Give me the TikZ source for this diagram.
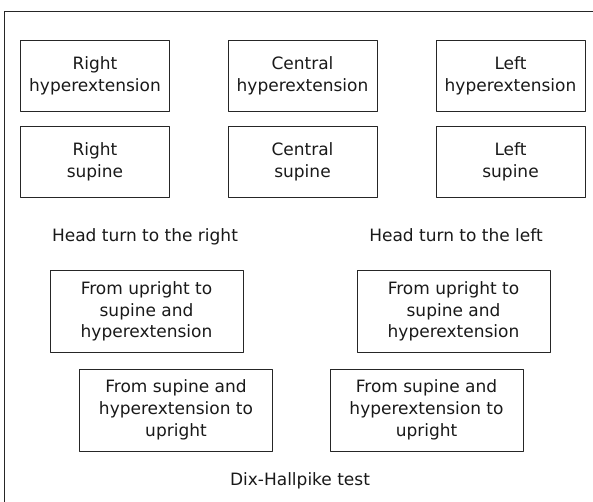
\documentclass[tikz,border=0pt]{standalone}
\usepackage{fontspec}
\setmainfont{DejaVu Sans}
\begin{document}
\begin{tikzpicture}[x=1pt, y=-1pt, line join=round, line cap=round]
			\tikzset{every node/.style={font=\fontsize{17}{21.7}\selectfont, align=center, inner sep=0pt, outer sep=0pt, text=black!90},
				posbox/.style={draw=black!85, line width=.9pt, minimum width=149pt, minimum height=71pt},
				testbox/.style={draw=black!85, line width=.9pt, minimum width=193pt, minimum height=82pt}}
			\def\W{593}  \def\H{502}
			\path[use as bounding box] (0,0) rectangle (\W,\H);
			\path  (4,11) coordinate (TL)
			(\W,11) coordinate (TR)
			(4,\H) coordinate (BL)
			;
			\draw[black!85, line width=.9pt] (TR)--(TL)--(BL);
			\foreach \x/\n/\s in {95/R/Right, 302.5/C/Central, 510.5/L/Left}{
				\node[posbox] (\n hyp) at (\x,76) {\s\\hyperextension};
				\node[posbox] (\n sup) at (\x,161.5) {\s\\supine};
			}
			\node[anchor=base] (Rturn) at (145,242) {Head turn to the right};
			\node[anchor=base] (Lturn) at (456,242) {Head turn to the left};
			\node[testbox] (Rdown) at (146.5,311.5) {From upright to\\supine and\\hyperextension};
			\node[testbox] (Ldown) at (453.5,311.5) {From upright to\\supine and\\hyperextension};
			\node[testbox] (Rup) at (176,410) {From supine and\\hyperextension to\\upright};
			\node[testbox] (Lup) at (426.5,410) {From supine and\\hyperextension to\\upright};
			\node[anchor=base] (DH) at (300,485) {Dix-Hallpike test};
		\end{tikzpicture}
\end{document}
